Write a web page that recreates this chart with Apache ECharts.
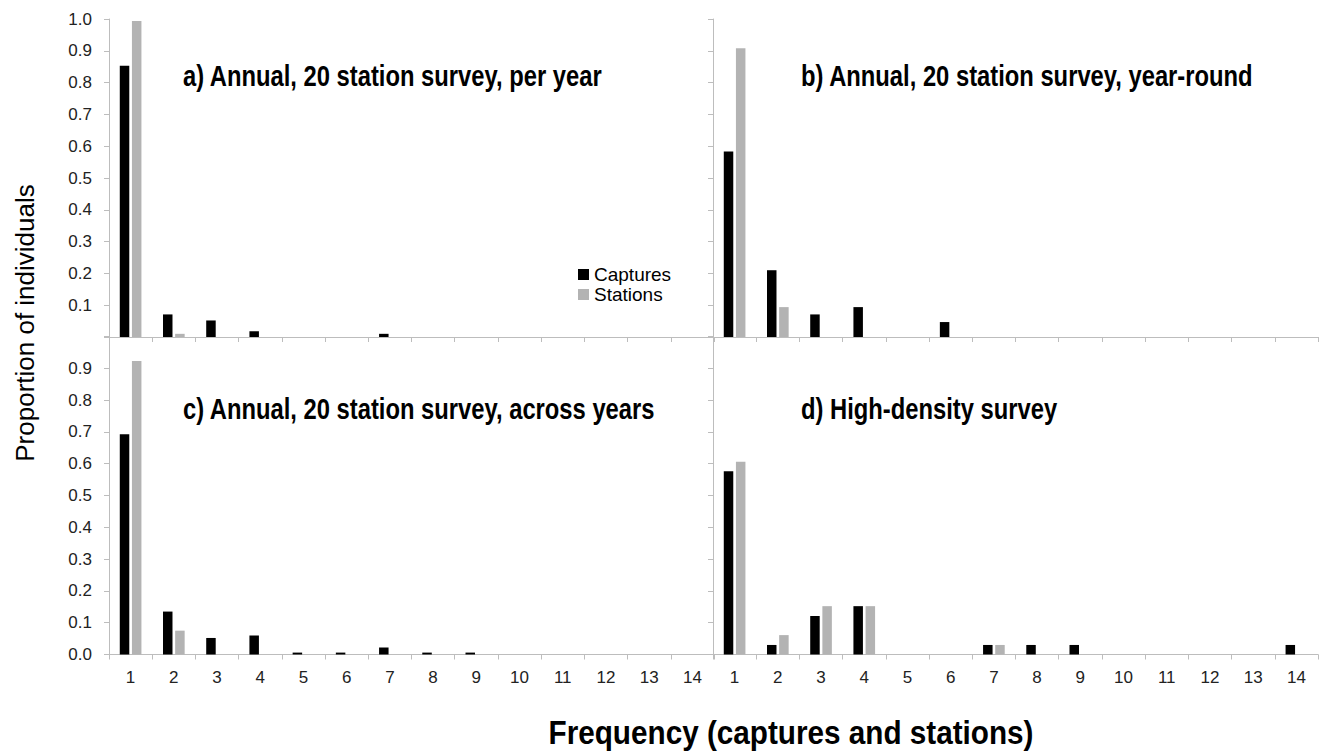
<!DOCTYPE html>
<html>
<head>
<meta charset="utf-8">
<title>Frequency of captures and stations</title>
<script src="https://cdn.jsdelivr.net/npm/echarts@6/dist/echarts.min.js"></script>
<style>
  html, body { margin: 0; padding: 0; background: #ffffff; }
  #chart { width: 1322px; height: 753px; }
</style>
</head>
<body>
<div id="chart"></div>
<script>
// Frequency categories (number of captures / stations per individual)
const categories = ['1','2','3','4','5','6','7','8','9','10','11','12','13','14'];

// Panel a) Annual, 20 station survey, per year
const capturesA = [0.853, 0.071, 0.052, 0.018, 0, 0, 0.01, 0, 0, 0, 0, 0, 0, 0];
const stationsA = [0.994, 0.01, 0, 0, 0, 0, 0, 0, 0, 0, 0, 0, 0, 0];

// Panel b) Annual, 20 station survey, year-round
const capturesB = [0.583, 0.21, 0.071, 0.094, 0, 0.047, 0, 0, 0, 0, 0, 0, 0, 0];
const stationsB = [0.908, 0.094, 0, 0, 0, 0, 0, 0, 0, 0, 0, 0, 0, 0];

// Panel c) Annual, 20 station survey, across years
const capturesC = [0.693, 0.135, 0.052, 0.06, 0.006, 0.006, 0.022, 0.006, 0.006, 0, 0, 0, 0, 0];
const stationsC = [0.923, 0.075, 0, 0, 0, 0, 0, 0, 0, 0, 0, 0, 0, 0];

// Panel d) High-density survey
const capturesD = [0.576, 0.03, 0.121, 0.152, 0, 0, 0.03, 0.03, 0.03, 0, 0, 0, 0, 0.03];
const stationsD = [0.606, 0.061, 0.152, 0.152, 0, 0, 0.03, 0, 0, 0, 0, 0, 0, 0];

const panelTitles = [
  'a) Annual, 20 station survey, per year',
  'b) Annual, 20 station survey, year-round',
  'c) Annual, 20 station survey, across years',
  'd) High-density survey'
];
const seriesNames = ['Captures', 'Stations'];
const xTitle = 'Frequency (captures and stations)';
const yTitle = 'Proportion of individuals';

const AXIS_GREY = '#bdbdbd';
const LABEL_FONT = '"Liberation Sans", Arial, sans-serif';

// Panel geometry: two columns, two rows sharing borders
const colLeft = [109, 713];
const colWidth = 605;
const rowTop = [19, 336.5];
const rowHeight = 318;

const grids = [];
const xAxes = [];
const yAxes = [];
for (let r = 0; r < 2; r++) {
  for (let c = 0; c < 2; c++) {
    const idx = r * 2 + c;
    grids.push({ left: colLeft[c], top: rowTop[r], width: colWidth, height: rowHeight, containLabel: false });
    xAxes.push({
      type: 'category',
      gridIndex: idx,
      data: categories,
      boundaryGap: true,
      axisLine: { show: true, lineStyle: { color: AXIS_GREY, width: 1 } },
      axisTick: { show: true, alignWithLabel: false, length: 5, lineStyle: { color: AXIS_GREY } },
      axisLabel: {
        show: r === 1,
        interval: 0,
        margin: 14,
        fontSize: 17,
        fontFamily: LABEL_FONT,
        color: '#222'
      },
      splitLine: { show: false }
    });
    yAxes.push({
      type: 'value',
      gridIndex: idx,
      min: 0,
      max: 1,
      interval: 0.1,
      axisLine: { show: true, lineStyle: { color: AXIS_GREY, width: 1 } },
      axisTick: { show: true, length: 5, lineStyle: { color: AXIS_GREY } },
      splitLine: { show: false },
      axisLabel: {
        show: c === 0,
        margin: 17,
        fontSize: 17,
        fontFamily: LABEL_FONT,
        color: '#222',
        formatter: function (v) {
          if (r === 0 && v < 0.001) return '';
          if (r === 1 && v > 0.999) return '';
          return v.toFixed(1);
        }
      }
    });
  }
}

const panelData = [
  [capturesA, stationsA],
  [capturesB, stationsB],
  [capturesC, stationsC],
  [capturesD, stationsD]
];
const barColors = ['#000000', '#b3b3b3'];

const series = [];
panelData.forEach(function (pair, idx) {
  pair.forEach(function (values, s) {
    series.push({
      type: 'bar',
      name: seriesNames[s],
      xAxisIndex: idx,
      yAxisIndex: idx,
      data: values,
      barWidth: 9.5,
      barGap: '28%',
      itemStyle: { color: barColors[s] },
      emphasis: { disabled: true },
      animation: false
    });
  });
});

// Panel titles in a condensed bold face (regular bold squeezed horizontally)
const titleX = [183, 801];
const titleY = [76, 409];
const graphics = [];
panelTitles.forEach(function (t, idx) {
  const r = Math.floor(idx / 2), c = idx % 2;
  graphics.push({
    type: 'text',
    x: titleX[c],
    y: titleY[r],
    scaleX: 0.82,
    style: {
      text: t,
      font: 'bold 29px ' + LABEL_FONT,
      fill: '#000',
      align: 'left',
      verticalAlign: 'middle'
    },
    silent: true
  });
});

// Shared axis titles
graphics.push({
  type: 'text',
  x: 25,
  y: 323,
  rotation: Math.PI / 2,
  style: {
    text: yTitle,
    font: '26px ' + LABEL_FONT,
    fill: '#000',
    align: 'center',
    verticalAlign: 'middle'
  },
  silent: true
});
graphics.push({
  type: 'text',
  x: 791,
  y: 733,
  scaleX: 0.9,
  style: {
    text: xTitle,
    font: 'bold 33px ' + LABEL_FONT,
    fill: '#000',
    align: 'center',
    verticalAlign: 'middle'
  },
  silent: true
});

const chart = echarts.init(document.getElementById('chart'), null, { renderer: 'svg' });
chart.setOption({
  backgroundColor: '#ffffff',
  animation: false,
  grid: grids,
  xAxis: xAxes,
  yAxis: yAxes,
  legend: {
    data: seriesNames,
    orient: 'vertical',
    left: 573,
    top: 260,
    icon: 'rect',
    itemWidth: 11,
    itemHeight: 11,
    itemGap: 1,
    selectedMode: false,
    textStyle: { fontSize: 19, fontFamily: LABEL_FONT, color: '#000', padding: [0, 0, 0, 0] }
  },
  graphic: graphics,
  series: series
});
</script>
</body>
</html>
